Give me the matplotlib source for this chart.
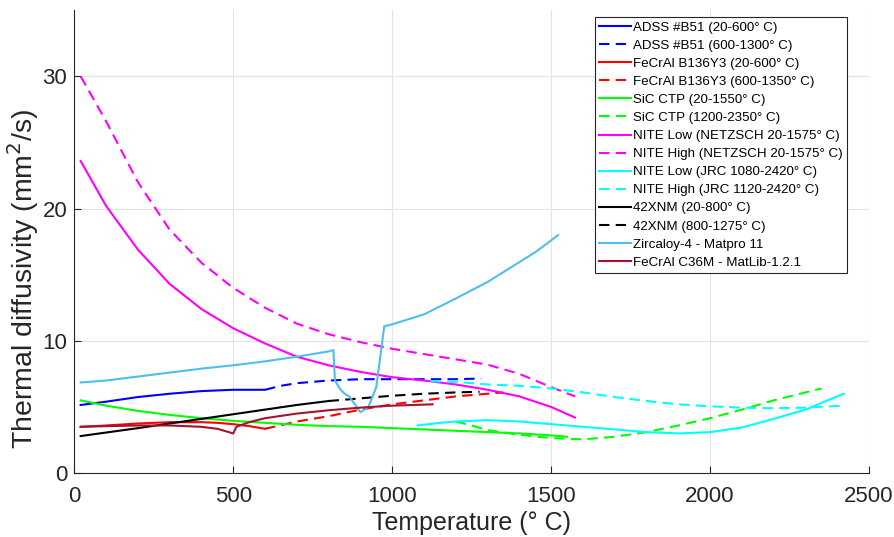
import matplotlib
matplotlib.use("Agg")
import matplotlib.pyplot as plt

plt.rcParams['font.family'] = ['Liberation Sans', 'DejaVu Sans']

# ADSS #B51
adss_T1 = [20, 100, 200, 300, 400, 500, 580, 600]
adss_D1 = [5.15, 5.4, 5.75, 6.0, 6.2, 6.3, 6.3, 6.3]
adss_T2 = [600, 650, 700, 800, 900, 1000, 1100, 1200, 1280]
adss_D2 = [6.3, 6.6, 6.8, 7.0, 7.1, 7.1, 7.1, 7.1, 7.15]

# FeCrAl B136Y3
b136_T1 = [20, 100, 200, 300, 400, 450, 500, 550, 600]
b136_D1 = [3.5, 3.6, 3.75, 3.85, 3.85, 3.8, 3.7, 3.55, 3.35]
b136_T2 = [600, 700, 800, 900, 1000, 1100, 1200, 1300, 1350]
b136_D2 = [3.35, 3.9, 4.3, 4.8, 5.2, 5.5, 5.8, 6.0, 6.1]

# SiC CTP
sic_T1 = [20, 100, 200, 300, 400, 500, 600, 700, 800, 900, 1000, 1100, 1200, 1300, 1400, 1500, 1550]
sic_D1 = [5.5, 5.1, 4.7, 4.4, 4.15, 3.95, 3.8, 3.65, 3.55, 3.5, 3.4, 3.3, 3.2, 3.1, 3.0, 2.85, 2.75]
sic_T2 = [1200, 1250, 1300, 1400, 1500, 1600, 1700, 1800, 1900, 2000, 2100, 2200, 2300, 2350]
sic_D2 = [3.9, 3.6, 3.25, 2.9, 2.65, 2.55, 2.75, 3.1, 3.6, 4.15, 4.8, 5.5, 6.1, 6.4]

# NITE (NETZSCH)
nite_T = [20, 100, 200, 300, 400, 500, 600, 700, 800, 900, 1000, 1100, 1200, 1300, 1400, 1500, 1575]
nite_low = [23.6, 20.2, 16.9, 14.3, 12.4, 10.95, 9.8, 8.8, 8.15, 7.65, 7.25, 7.0, 6.7, 6.3, 5.8, 5.0, 4.2]
nite_high = [30.0, 26.6, 22.0, 18.4, 15.9, 14.0, 12.5, 11.3, 10.5, 9.9, 9.4, 9.0, 8.6, 8.2, 7.5, 6.5, 5.8]

# NITE (JRC)
jrc_T1 = [1080, 1150, 1200, 1300, 1400, 1500, 1600, 1700, 1800, 1900, 2000, 2100, 2200, 2300, 2420]
jrc_low = [3.6, 3.8, 3.9, 4.0, 3.9, 3.7, 3.5, 3.3, 3.1, 3.0, 3.1, 3.45, 4.1, 4.8, 6.0]
jrc_T2 = [1120, 1200, 1300, 1400, 1500, 1600, 1700, 1800, 1900, 2000, 2100, 2200, 2300, 2420]
jrc_high = [6.95, 6.9, 6.7, 6.6, 6.4, 6.1, 5.75, 5.45, 5.2, 5.05, 4.95, 4.9, 4.95, 5.1]

# 42XNM
xnm_T1 = [20, 200, 400, 500, 600, 700, 800]
xnm_D1 = [2.8, 3.4, 4.1, 4.45, 4.8, 5.15, 5.45]
xnm_T2 = [800, 900, 1000, 1100, 1200, 1275]
xnm_D2 = [5.45, 5.65, 5.85, 6.0, 6.1, 6.15]

# Zircaloy-4 (Matpro 11)
zr_T = [20, 100, 150, 200, 300, 400, 500, 600, 700, 800, 815, 820, 835, 850, 865, 900, 925, 950, 975,
        1000, 1100, 1200, 1300, 1400, 1456, 1522]
zr_D = [6.85, 7.0, 7.15, 7.3, 7.6, 7.9, 8.15, 8.45, 8.8, 9.2, 9.3, 7.0, 6.4, 6.0, 5.8, 4.6, 5.0, 6.5, 11.1,
        11.25, 12.0, 13.2, 14.45, 15.95, 16.8, 18.0]

# FeCrAl C36M (MatLib-1.2.1)
c36_T = [20, 100, 200, 300, 400, 450, 500, 510, 550, 600, 700, 800, 900, 1000, 1127]
c36_D = [3.5, 3.55, 3.6, 3.6, 3.5, 3.35, 3.0, 3.5, 3.85, 4.15, 4.5, 4.75, 4.95, 5.1, 5.2]

fig = plt.figure(figsize=(8.95, 5.37), dpi=100)
ax = fig.add_axes([0.083, 0.119, 0.888, 0.862])

lw = 1.5
dash = (0, (5, 3))
deg = '\u00b0 C'
ax.plot(adss_T1, adss_D1, color='#0000ff', lw=lw, label='ADSS #B51 (20-600' + deg + ')')
ax.plot(adss_T2, adss_D2, color='#0000ff', lw=lw, ls=dash, label='ADSS #B51 (600-1300' + deg + ')')
ax.plot(b136_T1, b136_D1, color='#ff0000', lw=lw, label='FeCrAl B136Y3 (20-600' + deg + ')')
ax.plot(b136_T2, b136_D2, color='#ff0000', lw=lw, ls=dash, label='FeCrAl B136Y3 (600-1350' + deg + ')')
ax.plot(sic_T1, sic_D1, color='#00ff00', lw=lw, label='SiC CTP (20-1550' + deg + ')')
ax.plot(sic_T2, sic_D2, color='#00ff00', lw=lw, ls=dash, label='SiC CTP (1200-2350' + deg + ')')
ax.plot(nite_T, nite_low, color='#ff00ff', lw=lw, label='NITE Low (NETZSCH 20-1575' + deg + ')')
ax.plot(nite_T, nite_high, color='#ff00ff', lw=lw, ls=dash, label='NITE High (NETZSCH 20-1575' + deg + ')')
ax.plot(jrc_T1, jrc_low, color='#00ffff', lw=lw, label='NITE Low (JRC 1080-2420' + deg + ')')
ax.plot(jrc_T2, jrc_high, color='#00ffff', lw=lw, ls=dash, label='NITE High (JRC 1120-2420' + deg + ')')
ax.plot(xnm_T1, xnm_D1, color='k', lw=lw, label='42XNM (20-800' + deg + ')')
ax.plot(xnm_T2, xnm_D2, color='k', lw=lw, ls=dash, label='42XNM (800-1275' + deg + ')')
ax.plot(zr_T, zr_D, color='#4DBEEE', lw=lw, label='Zircaloy-4 - Matpro 11')
ax.plot(c36_T, c36_D, color='#A2142F', lw=lw, label='FeCrAl C36M - MatLib-1.2.1')

ax.set_xlim(0, 2500)
ax.set_ylim(0, 35)
ax.set_xticks([0, 500, 1000, 1500, 2000, 2500])
ax.set_yticks([0, 10, 20, 30])
ax.grid(True, color='#e3e3e3', lw=0.8)
ax.set_axisbelow(True)
for s in ['top', 'right']:
    ax.spines[s].set_visible(False)
for s in ['left', 'bottom']:
    ax.spines[s].set_color('#262626')
    ax.spines[s].set_linewidth(0.8)
ax.tick_params(direction='in', length=5, colors='#262626', labelsize=16)
ax.tick_params(axis='x', pad=9)
ax.tick_params(axis='y', pad=5)

ax.set_xlabel('Temperature (' + deg + ')', fontsize=18, color='#262626', labelpad=3)
ax.set_ylabel('Thermal diffusivity (mm$^2$/s)', fontsize=20.5, color='#262626')
ax.yaxis.set_label_coords(-0.042, 0.42)

leg = ax.legend(loc='upper right', bbox_to_anchor=(0.975, 0.99), fontsize=9.6, frameon=True,
                fancybox=False, handlelength=2.4, handletextpad=0.1, borderpad=0.3,
                labelspacing=0.43, borderaxespad=0.2)
leg.get_frame().set_edgecolor('#262626')
leg.get_frame().set_linewidth(0.8)
leg.get_frame().set_alpha(1)

fig.savefig('out.png', dpi=100)
